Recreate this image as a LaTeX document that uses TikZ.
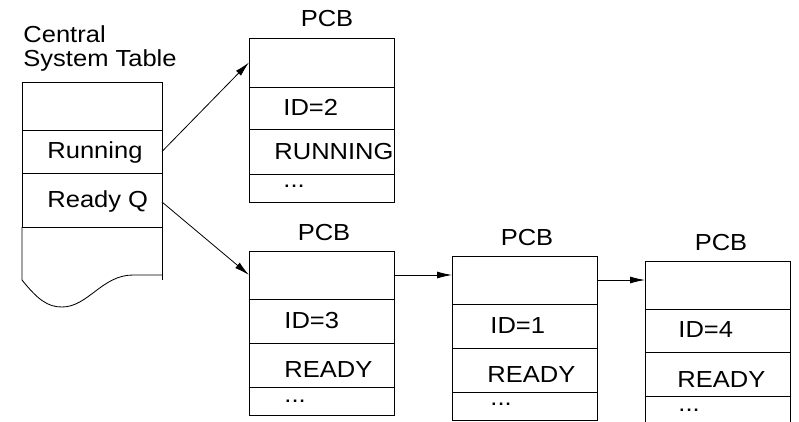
\documentclass[tikz,border=0pt]{standalone}
\usepackage{fontspec}
\setmainfont{Liberation Sans}[FakeStretch=1.1]
\usetikzlibrary{arrows.meta}

\begin{document}
\begin{tikzpicture}[x=1pt,y=-1pt,
  line width=0.85pt,
  cell/.style={draw, rectangle, inner sep=0pt, outer sep=0pt, minimum width=145pt},
  lbl/.style={inner sep=0pt, anchor=base west, font=\fontsize{23.2}{27}\selectfont},
  title/.style={inner sep=0pt, anchor=base, font=\fontsize{23.2}{27}\selectfont},
  link/.style={line width=0.8pt, -{Latex[length=15pt,width=7pt]}}
]
\useasboundingbox (0,0) rectangle (799,422);

% Central system table
\node[lbl] (csttitle1) at (23,43) {Central};
\node[lbl] (csttitle2) at (23,67) {System Table};
\node[cell, minimum width=140pt, minimum height=48pt] (cst0) at (92,106) {};
\node[cell, minimum width=140pt, minimum height=43pt] (cstrun) at (92,151.5) {};
\node[cell, minimum width=140pt, minimum height=54pt] (cstq) at (92,200) {};
\node[lbl] (cstruntxt) at (47,158) {Running};
\node[lbl] (cstqtxt) at (47,207) {Ready Q};
\draw (cstq.south west) -- (22,280)
  .. controls (38,300) and (48,307) .. (62,307)
  .. controls (88,307) and (102,275) .. (133,275) -- (162,275);
\draw (cstq.south east) -- (162,280);

% PCB of the running process
\node[title] (p1title) at (327,27) {PCB};
\node[cell, minimum height=49pt] (p1a) at (321.5,62.5) {};
\node[cell, minimum height=42pt] (p1b) at (321.5,108) {};
\node[cell, minimum height=45pt] (p1c) at (321.5,151.5) {};
\node[cell, minimum height=28pt] (p1d) at (321.5,188) {};
\node[lbl] (p1id) at (283,116) {ID=2};
\node[lbl] (p1st) at (274,159) {RUNNING};
\node[lbl] (p1more) at (283,187) {...};

% Ready queue: first PCB
\node[title] (p2title) at (324,240) {PCB};
\node[cell, minimum height=48pt] (p2a) at (321.5,275) {};
\node[cell, minimum height=44pt] (p2b) at (321.5,321) {};
\node[cell, minimum height=44pt] (p2c) at (321.5,365) {};
\node[cell, minimum height=28pt] (p2d) at (321.5,401) {};
\node[lbl] (p2id) at (284,328) {ID=3};
\node[lbl] (p2st) at (284,377) {READY};
\node[lbl] (p2more) at (284,402) {...};

% Ready queue: second PCB
\node[title] (p3title) at (527,245) {PCB};
\node[cell, minimum height=48pt] (p3a) at (524.5,280) {};
\node[cell, minimum height=44pt] (p3b) at (524.5,326) {};
\node[cell, minimum height=44pt] (p3c) at (524.5,370) {};
\node[cell, minimum height=28pt] (p3d) at (524.5,406) {};
\node[lbl] (p3id) at (490,333) {ID=1};
\node[lbl] (p3st) at (487,382) {READY};
\node[lbl] (p3more) at (490,405) {...};

% Ready queue: third PCB (runs past the lower edge)
\node[title] (p4title) at (721,250) {PCB};
\node[cell, minimum height=48pt] (p4a) at (717.5,285) {};
\node[cell, minimum height=43pt] (p4b) at (717.5,330.5) {};
\node[cell, minimum height=44pt] (p4c) at (717.5,374) {};
\draw (p4c.south west) -- (645,422);
\draw (p4c.south east) -- (790,422);
\node[lbl] (p4id) at (678,337) {ID=4};
\node[lbl] (p4st) at (677,387) {READY};
\node[lbl] (p4more) at (678,411) {...};

% Pointers
\draw[link] (cstrun.east) -- (p1a.west);
\draw[link] ([yshift=-2pt]cstq.east) -- (p2a.west);
\draw[link] (p2a.east) -- (p2a.east -| p3a.west);
\draw[link] (p3a.east) -- (p3a.east -| p4a.west);
\end{tikzpicture}
\end{document}
